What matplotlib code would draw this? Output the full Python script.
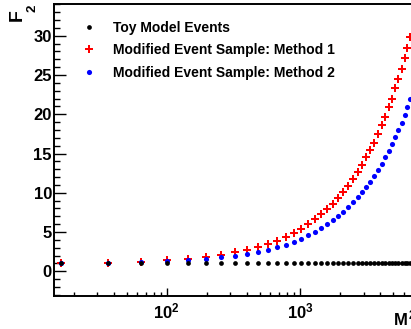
import numpy as np
import matplotlib
matplotlib.use('Agg')
import matplotlib.pyplot as plt
from matplotlib.ticker import FixedLocator, MultipleLocator, LogLocator, NullFormatter

plt.rcParams['font.family'] = ['Liberation Sans', 'DejaVu Sans']
plt.rcParams['font.weight'] = 'bold'
plt.rcParams['mathtext.fontset'] = 'custom'
plt.rcParams['mathtext.rm'] = 'Liberation Sans:bold'
plt.rcParams['mathtext.bf'] = 'Liberation Sans:bold'
plt.rcParams['mathtext.it'] = 'Liberation Sans:bold'

# M^2 values (M = 4, 6, 8, ... 82)
m2 = [16, 36, 64, 100, 144, 196, 256, 324, 400, 484, 576, 676, 784, 900,
      1024, 1156, 1296, 1444, 1600, 1764, 1936, 2116, 2304, 2500, 2704,
      2916, 3136, 3364, 3600, 3844, 4096, 4356, 4624, 4900, 5184, 5476,
      5776, 6084, 6400, 6724]

toy = [1.0, 1.0, 1.0, 1.0, 1.0, 1.0, 1.0, 1.0, 1.0, 1.0, 1.0, 1.0, 1.0, 1.0,
       1.0, 1.0, 1.0, 1.0, 1.0, 1.0, 1.0, 1.0, 1.0, 1.0, 1.0, 1.0, 1.0, 1.0,
       1.0, 1.0, 1.0, 1.0, 1.0, 1.0, 1.0, 1.0, 1.0, 1.0, 1.0, 1.0]

method1 = [1.0, 1.05, 1.2, 1.4, 1.6, 1.83, 2.13, 2.46, 2.77, 3.1, 3.45, 3.92,
           4.34, 4.89, 5.4, 6.0, 6.6, 7.24, 7.88, 8.6, 9.32, 10.1, 10.9, 11.7,
           12.6, 13.5, 14.5, 15.4, 16.4, 17.5, 18.6, 19.7, 20.9, 22.0, 23.3,
           24.5, 25.8, 27.2, 28.5, 29.9]

method2 = [1.0, 1.03, 1.15, 1.28, 1.45, 1.62, 1.78, 1.96, 2.21, 2.51, 2.77,
           3.07, 3.41, 3.79, 4.17, 4.56, 5.02, 5.49, 5.96, 6.47, 6.98, 7.54,
           8.17, 8.77, 9.41, 10.05, 10.73, 11.4, 12.13, 12.94, 13.7, 14.5,
           15.3, 16.2, 17.1, 18.0, 18.9, 19.9, 20.9, 21.9]

W, H = 411, 329
fig = plt.figure(figsize=(W / 100, H / 100), dpi=100, facecolor='white')
# axes runs past the right edge of the picture (cropped original)
ax = fig.add_axes([54 / W, (H - 296) / H, (433.3 - 54) / W, (296 - 4) / H])

p1, = ax.plot(m2, method1, linestyle='none', marker='P', markersize=5.4,
              color='#ff0000', markeredgewidth=0, zorder=2,
              label='Modified Event Sample: Method 1')
p2, = ax.plot(m2, method2, linestyle='none', marker='o', markersize=3.7,
              color='#0000ff', markeredgewidth=0, zorder=3,
              label='Modified Event Sample: Method 2')
p0, = ax.plot(m2, toy, linestyle='none', marker='o', markersize=3.4,
              color='black', markeredgewidth=0, zorder=4,
              label='Toy Model Events')

ax.set_xscale('log')
ax.set_xlim(14.28, 1e4)
ax.set_ylim(-3.15, 34.05)

ax.yaxis.set_major_locator(FixedLocator([0, 5, 10, 15, 20, 25, 30]))
ax.yaxis.set_minor_locator(MultipleLocator(1))
ax.xaxis.set_major_locator(FixedLocator([100, 1000]))
ax.set_xticklabels([r'$10^{2}$', r'$10^{3}$'])
ax.xaxis.set_minor_locator(LogLocator(base=10, subs=np.arange(2, 10)))
ax.xaxis.set_minor_formatter(NullFormatter())

ax.tick_params(axis='y', which='major', direction='in', length=8.6, width=1.0,
               labelsize=12, pad=1.5)
ax.tick_params(axis='y', which='minor', direction='in', length=4.3, width=1.0)
ax.tick_params(axis='x', which='major', direction='in', length=5.5, width=1.0,
               labelsize=12, pad=4)
ax.tick_params(axis='x', which='minor', direction='in', length=3.2, width=1.0)
for s in ax.spines.values():
    s.set_linewidth(1.4)

leg = ax.legend(handles=[p0, p1, p2], loc='upper left',
                bbox_to_anchor=(82.1 / W, (H - 21) / H),
                bbox_transform=fig.transFigure, frameon=False,
                prop={'weight': 'bold', 'size': 10}, handlelength=1.0,
                handletextpad=1.23, labelspacing=0.6, borderpad=0,
                borderaxespad=0, numpoints=1)

# axis titles (ROOT style)
fig.text(17 / W, 1 - 15 / H, 'F', rotation=90, fontsize=14,
         fontweight='bold', ha='center', va='center')
fig.text(32.5 / W, 1 - 8 / H, '2', rotation=90, fontsize=9.5,
         fontweight='bold', ha='center', va='center')
fig.text(393 / W, (H - 325) / H, r'$M^{2}$', fontsize=12, ha='left',
         va='baseline')

fig.savefig('out.png', dpi=100, facecolor='white')
